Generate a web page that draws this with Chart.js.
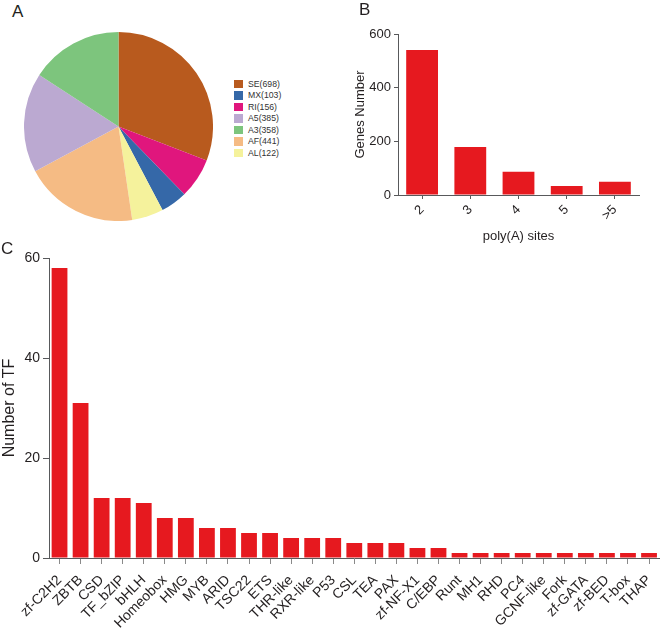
<!DOCTYPE html>
<html>
<head>
<meta charset="utf-8">
<script src="https://cdn.jsdelivr.net/npm/chart.js@4"></script>
<style>
  body { margin: 0; background: #fff; font-family: "Liberation Sans", Arial, sans-serif; }
  #wrap { position: relative; width: 669px; height: 629px; overflow: hidden; }
  canvas, .lbl, #legendA { position: absolute; }
  .lbl { font-size: 17px; line-height: 1; color: #231f20; }
  #legendA { left: 234px; top: 78px; font-size: 8.7px; color: #333; }
  #legendA div { display: flex; align-items: center; height: 11.5px; white-space: nowrap; }
  #legendA span { display: inline-block; width: 9px; height: 8.5px; margin-right: 5px; }
</style>
</head>
<body>
<div id="wrap">
  <canvas id="pieA" width="189" height="189" style="left:24px;top:32px"></canvas>
  <div id="legendA"></div>
  <canvas id="barB" width="339" height="260" style="left:330px;top:0"></canvas>
  <canvas id="barC" width="669" height="389" style="left:0;top:240px"></canvas>
  <div class="lbl" style="left:12px;top:3px">A</div>
  <div class="lbl" style="left:359px;top:1px">B</div>
  <div class="lbl" style="left:1px;top:240px">C</div>
</div>
<script>
// --- data ---
const pieLabels = ['SE', 'RI', 'MX', 'AL', 'AF', 'A5', 'A3'];
const pieValues = [698, 156, 103, 122, 441, 385, 358];
const pieColors = ['#b85a1e', '#e0167d', '#3568a8', '#f5f29c', '#f5bb84', '#bba9d1', '#7dc57d'];
const legendOrder = ['SE', 'MX', 'RI', 'A5', 'A3', 'AF', 'AL'];

const polyLabels = ['2', '3', '4', '5', '>5'];
const polyValues = [540, 179, 87, 34, 49];
const polyTicks = [0, 200, 400, 600];

const tfLabels = ['zf-C2H2', 'ZBTB', 'CSD', 'TF_bZIP', 'bHLH', 'Homeobox', 'HMG', 'MYB', 'ARID',
  'TSC22', 'ETS', 'THR-like', 'RXR-like', 'P53', 'CSL', 'TEA', 'PAX', 'zf-NF-X1', 'C/EBP',
  'Runt', 'MH1', 'RHD', 'PC4', 'GCNF-like', 'Fork', 'zf-GATA', 'zf-BED', 'T-box', 'THAP'];
const tfValues = [58, 31, 12, 12, 11, 8, 8, 6, 6, 5, 5, 4, 4, 4, 3, 3, 3, 2, 2, 1, 1, 1, 1, 1, 1, 1, 1, 1, 1];
const tfTicks = [0, 20, 40, 60];

const barRed = '#e6191f';
const axisColor = '#58595b';
const textColor = '#231f20';

Chart.defaults.font.family = '"Liberation Sans", Arial, sans-serif';
Chart.defaults.color = textColor;

// --- A: pie ---
new Chart(document.getElementById('pieA'), {
  type: 'pie',
  data: {
    labels: pieLabels,
    datasets: [{ data: pieValues, backgroundColor: pieColors, borderWidth: 0 }]
  },
  options: {
    responsive: false,
    animation: false,
    plugins: { legend: { display: false }, tooltip: { enabled: false } }
  }
});

const legendBox = document.getElementById('legendA');
legendOrder.forEach(name => {
  const i = pieLabels.indexOf(name);
  const row = document.createElement('div');
  row.innerHTML = `<span style="background:${pieColors[i]}"></span>${name}(${pieValues[i]})`;
  legendBox.appendChild(row);
});

// --- B: poly(A) sites ---
new Chart(document.getElementById('barB'), {
  type: 'bar',
  data: {
    labels: polyLabels,
    datasets: [{ data: polyValues, backgroundColor: barRed, barPercentage: 0.66, categoryPercentage: 1 }]
  },
  options: {
    responsive: false,
    animation: false,
    layout: { padding: { top: 34, right: 30, left: 0, bottom: 0 } },
    plugins: { legend: { display: false }, tooltip: { enabled: false } },
    scales: {
      x: {
        grid: { drawOnChartArea: false, offset: false, tickLength: 4, color: axisColor },
        border: { color: axisColor },
        ticks: { font: { size: 13 }, maxRotation: 45, minRotation: 45, padding: 3 },
        title: { display: true, text: 'poly(A) sites', font: { size: 13 }, padding: { top: 0, bottom: 16 } },
        afterFit: s => { s.height = 65; }
      },
      y: {
        min: 0,
        max: 600,
        afterBuildTicks: s => { s.ticks = polyTicks.map(v => ({ value: v })); },
        ticks: { font: { size: 13 }, padding: 3 },
        grid: { drawOnChartArea: false, tickLength: 4, color: axisColor },
        border: { color: axisColor },
        title: { display: true, text: 'Genes Number', font: { size: 13 }, padding: { top: 23, bottom: 0 } },
        afterFit: s => { s.width = 68; }
      }
    }
  }
});

// --- C: TF families ---
new Chart(document.getElementById('barC'), {
  type: 'bar',
  data: {
    labels: tfLabels,
    datasets: [{ data: tfValues, backgroundColor: barRed, barPercentage: 0.75, categoryPercentage: 1 }]
  },
  options: {
    responsive: false,
    animation: false,
    layout: { padding: { top: 18, right: 5, left: 0, bottom: 0 } },
    plugins: { legend: { display: false }, tooltip: { enabled: false } },
    scales: {
      x: {
        grid: { drawOnChartArea: false, offset: false, tickLength: 6, color: '#8a8a8a' },
        border: { color: axisColor },
        ticks: { font: { size: 14 }, maxRotation: 45, minRotation: 45, padding: 8, autoSkip: false },
        afterFit: s => { s.height = 71; }
      },
      y: {
        min: 0,
        max: 60,
        afterBuildTicks: s => { s.ticks = tfTicks.map(v => ({ value: v })); },
        ticks: { font: { size: 14 }, padding: 3 },
        grid: { drawOnChartArea: false, tickLength: 6, color: axisColor },
        border: { color: axisColor },
        title: { display: true, text: 'Number of TF', font: { size: 16 }, padding: { top: 0, bottom: 0 } },
        afterFit: s => { s.width = 49; }
      }
    }
  }
});
</script>
</body>
</html>
